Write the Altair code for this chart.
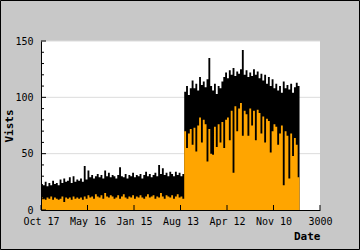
import altair as alt
import pandas as pd

# ---- data (one value per 20-day step) ----
step_days = 20

black_low = [23, 22, 25, 21, 24, 22, 26, 23, 24, 22,
             27, 24, 28, 25, 26, 29, 24, 30, 25, 27,
             26, 28, 25, 39, 27, 35, 29, 31, 28, 30,
             32, 29, 31, 28, 35, 30, 33, 29, 31, 30,
             28, 31, 38, 30, 29, 32, 28, 31, 30, 33,
             29, 31, 30, 32, 28, 31, 34, 30, 32, 29,
             31, 33, 30, 40, 32, 37, 31, 33, 30, 34,
             32, 30, 34, 31, 33, 30, 32]
black_high = [105, 110, 102, 108,
              115, 108, 112, 106,
              118, 111, 114, 109,
              116, 135, 110,
              106, 112, 103, 110, 108,
              114, 118, 122, 117, 124,
              120, 126, 119, 123, 121,
              125, 142, 120, 124, 118,
              122, 119, 125, 120, 123, 117, 121,
              115, 120, 112, 118, 110, 116, 108,
              112, 106, 110, 104, 114, 108, 111,
              107, 112, 104, 109, 113, 110, 102]

orange_low = [11, 10, 9, 11, 10, 12, 9, 11, 10, 9,
              10, 12, 7, 11, 10, 11, 9, 12, 10, 11,
              10, 11, 9, 12, 10, 13, 11, 12, 10, 14,
              12, 11, 13, 10, 15, 12, 11, 13, 12, 10,
              11, 13, 10, 12, 14, 11, 10, 12, 11, 13,
              10, 12, 11, 13, 11, 10, 12, 14, 11, 12,
              13, 10, 12, 11, 15, 12, 10, 13, 12, 11,
              13, 10, 12, 14, 11, 12, 10]
orange_high = [70, 55, 68, 72,
               58, 73, 52, 75,
               82, 60, 80, 76,
               43, 72, 50,
               49, 74, 56, 76, 60,
               78, 55, 80, 82, 62,
               88, 33, 92, 70, 90,
               95, 66, 88, 85, 66,
               90, 75, 88, 62, 89, 86, 68,
               83, 60, 81, 79, 51, 70, 76,
               74, 58, 68, 75, 22, 70, 66,
               28, 68, 48, 64, 58, 29, 62]

total_visits = black_low + black_high
unique_visits = orange_low + orange_high
day = [i * step_days for i in range(len(total_visits))]

x_tick_values = [0, 500, 1000, 1500, 2000, 2500, 3000]
x_tick_labels = ["Oct 17", "May 16", "Jan 15", "Aug 13", "Apr 12", "Nov 10", "3000"]
y_major = [0, 50, 100, 150]
y_minor = [10, 20, 30, 40, 60, 70, 80, 90, 110, 120, 130, 140]
grid_y = [50, 100, 150]

df = pd.DataFrame({"day": day, "total": total_visits, "unique": unique_visits})

W, H = 279, 169
FONT = "DejaVu Sans Mono"

xscale = alt.Scale(domain=[0, 3000], nice=False, zero=False)
yscale = alt.Scale(domain=[0, 150], nice=False)

label_expr = "[" + ",".join("'%s'" % t for t in x_tick_labels) + "][round(datum.value/500)]"

xaxis = alt.Axis(values=x_tick_values, labelExpr=label_expr, title="Date",
                 ticks=False, tickSize=0, grid=False,
                 domainColor="black", domainWidth=1,
                 labelFont=FONT, labelFontSize=10, labelColor="black",
                 labelPadding=6, labelOverlap=False, labelBound=False, labelFlush=False,
                 titleFont=FONT, titleFontSize=11, titleFontWeight="bold", titleColor="black",
                 titleAlign="right", titleX=W, titleY=26, titleBaseline="middle",
                 zindex=1)
yaxis = alt.Axis(values=y_major, title="Vists",
                 ticks=False, tickSize=0, grid=False,
                 domainColor="black", domainWidth=1,
                 labelFont=FONT, labelFontSize=10, labelColor="black",
                 labelPadding=8, labelOverlap=False, labelBound=False, labelFlush=False,
                 titleFont=FONT, titleFontSize=11, titleFontWeight="bold", titleColor="black",
                 titleAngle=270, titleAlign="center", titleBaseline="middle",
                 titleX=-32, titleY=H / 2,
                 zindex=1)

grid = alt.Chart(pd.DataFrame({"v": grid_y})).mark_rule(
    color="#dcdcdc", strokeWidth=1
).encode(y=alt.Y("v:Q", scale=yscale, axis=yaxis))

black_area = alt.Chart(df).mark_area(color="black", interpolate="step-after").encode(
    x=alt.X("day:Q", scale=xscale, axis=xaxis),
    y=alt.Y("total:Q", scale=yscale, axis=yaxis),
)
orange_area = alt.Chart(df).mark_area(color="#ffa500", interpolate="step-after").encode(
    x=alt.X("day:Q", scale=xscale, axis=xaxis),
    y=alt.Y("unique:Q", scale=yscale, axis=yaxis),
)

ymaj = alt.Chart(pd.DataFrame({"v": y_major})).mark_rule(color="black", strokeWidth=1).encode(
    y=alt.Y("v:Q", scale=yscale, axis=yaxis), x=alt.value(0), x2=alt.value(5))
ymin = alt.Chart(pd.DataFrame({"v": y_minor})).mark_rule(color="black", strokeWidth=1).encode(
    y=alt.Y("v:Q", scale=yscale, axis=yaxis), x=alt.value(0), x2=alt.value(3))
xt = alt.Chart(pd.DataFrame({"v": x_tick_values})).mark_rule(color="black", strokeWidth=1).encode(
    x=alt.X("v:Q", scale=xscale, axis=xaxis), y=alt.value(H), y2=alt.value(H - 5))

border = alt.Chart(pd.DataFrame({"v": [0]})).mark_rect(
    fillOpacity=0, stroke="black", strokeWidth=1
).encode(x=alt.value(-40.5), x2=alt.value(318.5), y=alt.value(-40.5), y2=alt.value(208.5))

chart = alt.layer(grid, black_area, orange_area, ymaj, ymin, xt, border).properties(
    width=W, height=H,
    padding={"left": 41, "top": 41, "right": 40, "bottom": 40},
    autosize=alt.AutoSizeParams(type="none"),
    background="#c8c8c8",
).configure_view(fill="white", strokeWidth=0)

chart.save("out.html", embed_options={"renderer": "svg", "actions": False})
